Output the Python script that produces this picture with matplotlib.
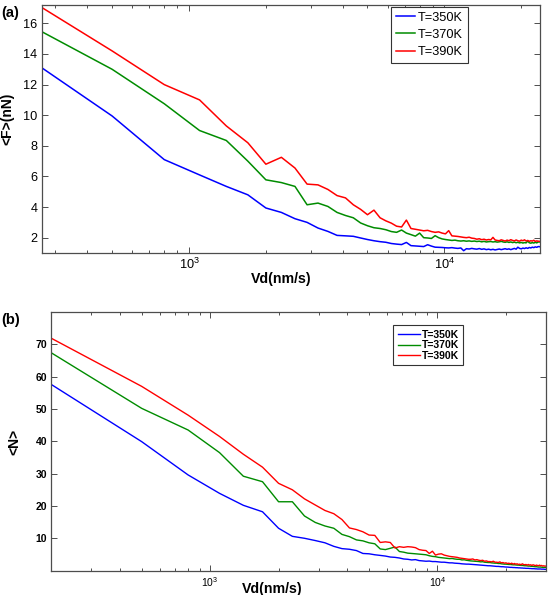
import numpy as np
import matplotlib
matplotlib.use("Agg")
import matplotlib.pyplot as plt
from matplotlib.ticker import LogLocator, NullFormatter

plt.rcParams["font.family"] = ["Liberation Sans", "DejaVu Sans"]
plt.rcParams["mathtext.fontset"] = "custom"
plt.rcParams["mathtext.rm"] = "Liberation Sans"

# drag velocity grid (nm/s), sampled every 300 nm/s
vd_f = np.arange(200, 23601, 300)
vd_n = np.arange(200, 29901, 300)

labels = ["T=350K", "T=370K", "T=390K"]
colors = ["#0000ff", "#008c00", "#ff0000"]

# (a) mean friction force <F> (nN)
f_350 = [14.5, 9.95, 7.1, 6.1, 5.35, 4.8, 3.94, 3.65, 3.24, 3.0, 2.63, 2.41, 2.15, 2.12, 2.09, 1.98,
         1.88, 1.8, 1.74, 1.7, 1.62, 1.58, 1.55, 1.69, 1.48, 1.46, 1.44, 1.42, 1.54, 1.45, 1.38, 1.37,
         1.36, 1.34, 1.33, 1.35, 1.32, 1.3, 1.33, 1.15, 1.28, 1.26, 1.3, 1.27, 1.25, 1.29, 1.24, 1.27,
         1.22, 1.25, 1.21, 1.24, 1.2, 1.23, 1.26, 1.22, 1.25, 1.28, 1.24, 1.27, 1.22, 1.26, 1.3, 1.25,
         1.38, 1.3, 1.27, 1.32, 1.29, 1.34, 1.3, 1.36, 1.33, 1.38, 1.35, 1.4, 1.37, 1.42, 1.41]
f_370 = [16.55, 13.0, 10.75, 9.0, 8.35, 7.0, 5.78, 5.6, 5.35, 4.15, 4.26, 4.04, 3.65, 3.45, 3.3, 2.96,
         2.78, 2.65, 2.6, 2.52, 2.4, 2.35, 2.5, 2.3, 2.2, 2.1, 2.3, 2.0, 1.98, 1.95, 2.13, 2.0,
         1.92, 1.88, 1.85, 1.82, 1.84, 1.8, 1.78, 1.8, 1.77, 1.79, 1.76, 1.78, 1.75, 1.77, 1.73, 1.76,
         1.72, 1.74, 1.75, 1.72, 1.74, 1.71, 1.73, 1.76, 1.72, 1.7, 1.73, 1.69, 1.72, 1.68, 1.71, 1.67,
         1.7, 1.66, 1.69, 1.65, 1.68, 1.66, 1.78, 1.67, 1.64, 1.68, 1.65, 1.7, 1.66, 1.72, 1.72]
f_390 = [18.3, 14.2, 12.0, 11.0, 9.3, 8.2, 6.8, 7.25, 6.55, 5.5, 5.45, 5.15, 4.75, 4.6, 4.15, 3.85,
         3.5, 3.8, 3.3, 3.1, 2.95, 2.75, 2.7, 3.15, 2.6, 2.55, 2.5, 2.45, 2.48, 2.4, 2.35, 2.38,
         2.3, 2.25, 2.46, 2.12, 2.1, 2.08, 2.05, 2.02, 2.0, 2.03, 1.97, 1.95, 1.9, 1.93, 1.87, 1.9,
         1.85, 1.88, 1.86, 2.02, 1.85, 1.82, 1.8, 1.86, 1.82, 1.78, 1.84, 1.8, 1.87, 1.82, 1.79, 1.85,
         1.8, 1.77, 1.84, 1.8, 1.86, 1.78, 1.82, 1.76, 1.8, 1.78, 1.83, 1.76, 1.79, 1.77, 1.76]

# (b) mean number <N>
n_350 = [57.6, 39.9, 29.6, 23.9, 20.2, 18.2, 13.1, 10.6, 10.0, 9.3, 8.6, 7.5, 6.8, 6.6, 6.2, 5.3,
         5.2, 4.9, 4.7, 4.5, 4.2, 4.1, 3.9, 3.6, 3.5, 3.3, 3.4, 3.1, 3.0, 2.9, 2.95, 2.8,
         2.8, 2.7, 2.6, 2.6, 2.5, 2.4, 2.4, 2.3, 2.25, 2.2, 2.1, 2.05, 2.0, 2.0, 1.95, 1.9,
         1.85, 1.8, 1.75, 1.7, 1.65, 1.6, 1.55, 1.5, 1.5, 1.45, 1.4, 1.35, 1.3, 1.3, 1.25, 1.2,
         1.2, 1.15, 1.1, 1.1, 1.05, 1.0, 1.0, 0.95, 0.95, 0.9, 0.9, 0.85, 0.85, 0.8, 0.8, 0.75,
         0.75, 0.7, 0.7, 0.7, 0.65, 0.65, 0.6, 0.6, 0.6, 0.55, 0.55, 0.5, 0.5, 0.5, 0.5, 0.45,
         0.45, 0.45, 0.4, 0.4]
n_370 = [67.4, 50.2, 43.5, 36.5, 29.2, 27.5, 21.3, 21.3, 16.9, 14.9, 13.8, 13.1, 11.2, 10.5, 9.5, 9.2,
         8.6, 8.3, 6.7, 6.5, 6.9, 7.3, 5.9, 5.7, 5.4, 5.3, 5.2, 5.1, 5.0, 4.9, 4.6, 4.4,
         4.3, 4.1, 4.0, 3.9, 3.8, 3.7, 3.75, 3.6, 3.5, 3.5, 3.3, 3.35, 3.2, 3.1, 3.0, 2.95,
         2.9, 2.85, 2.8, 2.7, 2.75, 2.6, 2.55, 2.5, 2.5, 2.4, 2.35, 2.3, 2.3, 2.2, 2.2, 2.1,
         2.05, 2.0, 2.0, 1.95, 1.9, 1.9, 1.85, 1.8, 1.8, 1.75, 1.7, 1.7, 1.65, 1.6, 1.6, 1.55,
         1.5, 1.5, 1.45, 1.4, 1.4, 1.35, 1.3, 1.3, 1.25, 1.2, 1.2, 1.15, 1.1, 1.1, 1.1, 1.05,
         1.0, 1.0, 1.0, 1.0]
n_390 = [71.9, 57.0, 48.1, 41.5, 36.0, 32.0, 27.0, 25.0, 22.2, 20.3, 18.6, 17.6, 15.8, 13.2, 12.7, 12.0,
         11.0, 10.9, 8.7, 8.9, 8.7, 7.0, 7.4, 7.2, 7.4, 7.3, 7.1, 6.5, 6.3, 6.2, 5.3, 6.0,
         4.8, 5.1, 5.2, 4.8, 4.6, 4.4, 4.3, 4.2, 4.1, 3.9, 3.8, 3.7, 3.6, 3.5, 3.5, 3.6,
         3.3, 3.4, 3.2, 3.1, 3.2, 2.9, 3.0, 2.8, 2.8, 2.7, 2.9, 2.6, 2.6, 2.5, 2.7, 2.4,
         2.5, 2.3, 2.4, 2.2, 2.3, 2.1, 2.3, 2.0, 2.2, 2.0, 2.1, 1.9, 2.0, 1.8, 2.1, 1.9,
         1.8, 1.9, 1.7, 1.9, 1.7, 1.8, 1.6, 1.8, 1.7, 1.5, 1.7, 1.6, 1.5, 1.7, 1.5, 1.6,
         1.4, 1.5, 1.4, 1.4]

FRAME = "#4d4d4d"


def style_axis(ax, tick_size, tick_weight, pad):
    ax.set_xscale("log")
    ax.xaxis.set_major_locator(LogLocator(base=10))
    ax.xaxis.set_minor_locator(LogLocator(base=10, subs=np.arange(2, 10)))
    ax.xaxis.set_minor_formatter(NullFormatter())
    ax.tick_params(which="both", direction="in", top=True, right=True, color=FRAME, width=0.7)
    ax.tick_params(which="major", length=4, labelsize=tick_size, pad=pad)
    ax.tick_params(which="minor", length=2.5)
    for lab in ax.get_yticklabels():
        lab.set_fontweight(tick_weight)
    for sp in ax.spines.values():
        sp.set_color(FRAME)
        sp.set_linewidth(0.9)


fig = plt.figure(figsize=(5.51, 5.95), dpi=100)

# panel (a)
ax1 = fig.add_axes([0.0757, 0.5748, 0.9036, 0.4168])
for y, c, lab in zip([f_350, f_370, f_390], colors, labels):
    ax1.plot(vd_f, y, color=c, lw=1.1, label=lab)
ax1.set_xlim(265, 23600)
ax1.set_ylim(1.0, 17.2)
ax1.set_yticks([2, 4, 6, 8, 10, 12, 14, 16])
style_axis(ax1, 9.2, "normal", 3)
leg1 = ax1.legend(loc="upper left", bbox_to_anchor=(0.709, 0.9887), bbox_transform=fig.transFigure,
                  fancybox=False, edgecolor="#333333", fontsize=9.2, handlelength=1.5,
                  handletextpad=0.2, borderpad=0.4, labelspacing=0.4, borderaxespad=0, framealpha=1)
leg1.get_frame().set_linewidth(0.8)

# panel (b)
ax2 = fig.add_axes([0.0929, 0.0410, 0.898, 0.4346])
for y, c, lab in zip([n_350, n_370, n_390], colors, labels):
    ax2.plot(vd_n, y, color=c, lw=1.0, label=lab)
ax2.set_xlim(200, 30000)
ax2.set_ylim(0, 80)
ax2.set_yticks([10, 20, 30, 40, 50, 60, 70])
style_axis(ax2, 7.5, "bold", 3)
leg2 = ax2.legend(loc="upper left", bbox_to_anchor=(0.7138, 0.4538), bbox_transform=fig.transFigure,
                  fancybox=False, edgecolor="#333333", prop={"size": 7.5, "weight": "bold"},
                  handlelength=2.1, handletextpad=0.15, borderpad=0.45, labelspacing=0.05,
                  borderaxespad=0, framealpha=1)
leg2.get_frame().set_linewidth(0.8)

# labels drawn as figure text to sit where the original places them
fig.text(1 / 551, 1 - 13 / 595, "(a)", fontsize=10.5, weight="bold", ha="left", va="center")
fig.text(1 / 551, 1 - 320 / 595, "(b)", fontsize=10.5, weight="bold", ha="left", va="center")
fig.text(7 / 551, 1 - 119 / 595, "<F>(nN)", fontsize=10, weight="bold", rotation=90,
         ha="center", va="center")
fig.text(14 / 551, 1 - 442 / 595, "<N>", fontsize=10, weight="bold", rotation=90,
         ha="center", va="center")
fig.text(281 / 551, 1 - 278.5 / 595, "Vd(nm/s)", fontsize=10.2, weight="bold",
         ha="center", va="center")
fig.text(272 / 551, 1 - 589 / 595, "Vd(nm/s)", fontsize=10.2, weight="bold",
         ha="center", va="center")

fig.savefig("out.png", dpi=100)
